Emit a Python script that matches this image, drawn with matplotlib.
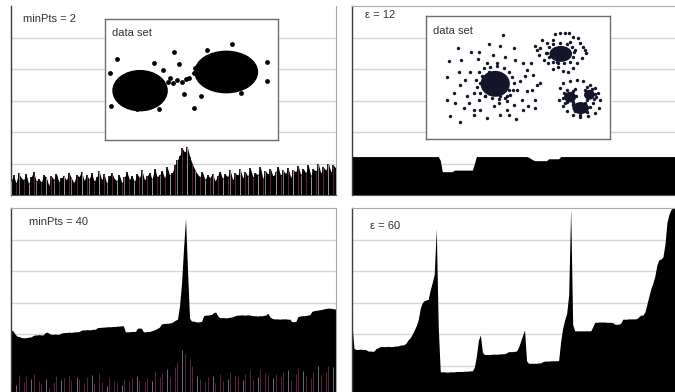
import matplotlib
matplotlib.use("Agg")
import matplotlib.pyplot as plt
from matplotlib.patches import Ellipse
import numpy as np

plt.rcParams['font.family'] = ['Liberation Sans', 'DejaVu Sans']

# ---------------------------------------------------------------- data
# Reachability plot, minPts = 2 (very noisy)
reach_minpts2 = [
    0.45, 0.62, 0.38, 0.70, 0.55, 0.48, 0.66, 0.35, 0.58, 0.72, 0.44, 0.52, 0.40, 0.63, 0.57,
    0.30, 0.61, 0.49, 0.68, 0.42, 0.55, 0.60, 0.47, 0.71, 0.53, 0.39, 0.65, 0.58, 0.74, 0.46,
    0.62, 0.51, 0.69, 0.43, 0.57, 0.75, 0.48, 0.66, 0.36, 0.59, 0.70, 0.52, 0.45, 0.63, 0.38,
    0.56, 0.73, 0.49, 0.61, 0.42, 0.67, 0.55, 0.78, 0.47, 0.60, 0.71, 0.50, 0.84, 0.58, 0.64,
    0.76, 0.53, 0.88, 0.62, 0.70, 0.95, 1.10, 1.25, 1.48, 1.35, 1.52, 1.20, 0.98, 0.80, 0.66,
    0.58, 0.72, 0.49, 0.63, 0.55, 0.68, 0.44, 0.61, 0.74, 0.52, 0.66, 0.58, 0.79, 0.47, 0.69,
    0.62, 0.81, 0.54, 0.73, 0.60, 0.85, 0.57, 0.70, 0.64, 0.88, 0.51, 0.76, 0.66, 0.83, 0.59,
    0.72, 0.90, 0.62, 0.78, 0.68, 0.86, 0.55, 0.80, 0.73, 0.92, 0.64, 0.84, 0.70, 0.95, 0.61,
    0.82, 0.76, 0.98, 0.69, 0.88, 0.79, 1.00, 0.72, 0.94, 0.85,
]

# Reachability plot, minPts = 40
reach_minpts40 = [
    2.13, 2.10, 2.00, 1.93, 1.92, 1.89, 1.88, 1.88, 1.89, 1.90, 1.91, 1.95, 1.97, 1.97, 1.98,
    1.97, 1.97, 2.04, 2.06, 2.02, 1.99, 1.99, 2.00, 1.99, 1.99, 2.03, 2.04, 2.05, 2.05, 2.06,
    2.05, 2.06, 2.07, 2.07, 2.08, 2.12, 2.13, 2.13, 2.14, 2.13, 2.14, 2.15, 2.15, 2.20, 2.21,
    2.21, 2.22, 2.22, 2.23, 2.23, 2.23, 2.24, 2.24, 2.25, 2.25, 2.26, 2.26, 2.07, 2.07, 2.07,
    2.08, 2.08, 2.08, 2.18, 2.19, 2.18, 2.07, 2.07, 2.08, 2.08, 2.10, 2.12, 2.15, 2.18, 2.22,
    2.32, 2.33, 2.34, 2.34, 2.35, 2.36, 2.40, 2.44, 2.47, 2.90, 3.60, 4.70, 5.67, 4.00, 2.50,
    2.41, 2.41, 2.39, 2.38, 2.39, 2.40, 2.58, 2.60, 2.60, 2.61, 2.62, 2.68, 2.70, 2.58, 2.52,
    2.52, 2.52, 2.51, 2.52, 2.53, 2.54, 2.56, 2.59, 2.60, 2.60, 2.61, 2.60, 2.60, 2.61, 2.60,
    2.59, 2.58, 2.58, 2.57, 2.58, 2.58, 2.59, 2.60, 2.66, 2.55, 2.50, 2.48, 2.48, 2.48, 2.47,
    2.48, 2.48, 2.48, 2.47, 2.47, 2.39, 2.39, 2.40, 2.55, 2.57, 2.58, 2.58, 2.59, 2.60, 2.62,
    2.72, 2.74, 2.75, 2.76, 2.77, 2.78, 2.80, 2.81, 2.82, 2.82, 2.81, 2.80, 2.79,
]

# Reachability plot, eps = 12 (values above eps are capped)
reach_eps12 = [
    1.22, 1.22, 1.22, 1.22, 1.22, 1.22, 1.22, 1.22, 1.22, 1.22, 1.22, 1.22, 1.22, 1.22, 1.22,
    1.22, 1.22, 1.22, 1.22, 1.22, 1.22, 1.22, 1.22, 1.22, 1.22, 1.22, 1.22, 1.22, 1.22, 1.22,
    1.22, 1.22, 1.22, 1.22, 1.22, 1.22, 1.22, 1.22, 1.22, 1.22, 1.22, 1.22, 1.22, 1.22, 1.10,
    0.74, 0.74, 0.74, 0.74, 0.74, 0.74, 0.79, 0.79, 0.79, 0.79, 0.79, 0.79, 0.79, 0.79, 0.79,
    0.79, 1.00, 1.22, 1.22, 1.22, 1.22, 1.22, 1.22, 1.22, 1.22, 1.22, 1.22, 1.22, 1.22, 1.22,
    1.22, 1.22, 1.22, 1.22, 1.22, 1.22, 1.22, 1.22, 1.22, 1.22, 1.22, 1.22, 1.22, 1.20, 1.16,
    1.12, 1.09, 1.09, 1.09, 1.09, 1.09, 1.09, 1.09, 1.15, 1.15, 1.15, 1.15, 1.15, 1.15, 1.22,
    1.22, 1.22, 1.22, 1.22, 1.22, 1.22, 1.22, 1.22, 1.22, 1.22, 1.22, 1.22, 1.22, 1.22, 1.22,
    1.22, 1.22, 1.22, 1.22, 1.22, 1.22, 1.22, 1.22, 1.22, 1.22, 1.22, 1.22, 1.22, 1.22, 1.22,
    1.22, 1.22, 1.22, 1.22, 1.22, 1.22, 1.22, 1.22, 1.22, 1.22, 1.22, 1.22, 1.22, 1.22, 1.22,
    1.22, 1.22, 1.22, 1.22, 1.22, 1.22, 1.22, 1.22, 1.22, 1.22, 1.22, 1.22,
]

# Reachability plot, eps = 60
reach_eps60 = [
    2.29, 1.54, 1.51, 1.51, 1.52, 1.51, 1.51, 1.50, 1.46, 1.46, 1.45, 1.46, 1.54, 1.56, 1.60,
    1.60, 1.60, 1.60, 1.61, 1.60, 1.60, 1.61, 1.62, 1.62, 1.65, 1.65, 1.66, 1.72, 1.82, 1.88,
    1.99, 2.12, 2.26, 2.45, 2.81, 2.99, 3.06, 3.08, 3.10, 3.40, 3.64, 3.90, 5.35, 2.20, 0.80,
    0.80, 0.80, 0.79, 0.79, 0.80, 0.80, 0.80, 0.81, 0.81, 0.81, 0.81, 0.82, 0.82, 0.82, 0.83,
    0.83, 0.95, 1.30, 1.80, 1.97, 1.42, 1.35, 1.35, 1.35, 1.35, 1.36, 1.36, 1.36, 1.36, 1.37,
    1.37, 1.38, 1.40, 1.44, 1.44, 1.44, 1.45, 1.46, 1.58, 1.76, 1.95, 2.13, 1.15, 1.07, 1.07,
    1.07, 1.07, 1.07, 1.08, 1.08, 1.12, 1.14, 1.14, 1.14, 1.15, 1.15, 1.15, 1.15, 1.16, 1.76,
    2.18, 2.45, 2.65, 3.24, 6.00, 2.30, 2.10, 2.10, 2.10, 2.10, 2.10, 2.10, 2.10, 2.10, 2.10,
    2.23, 2.37, 2.37, 2.38, 2.38, 2.38, 2.38, 2.37, 2.37, 2.37, 2.36, 2.31, 2.31, 2.31, 2.35,
    2.47, 2.47, 2.47, 2.48, 2.48, 2.48, 2.48, 2.49, 2.55, 2.60, 2.60, 2.70, 2.95, 3.20, 3.45,
    3.62, 3.85, 4.20, 4.36, 4.38, 4.45, 4.85, 5.55, 5.80, 5.95, 6.00, 6.00,
]

# Two-cluster data set (left inset): dense blobs, bridge and outliers
blob2_cx = [420, 678]
blob2_cy = [272, 216]
blob2_w = [160, 185]
blob2_h = [118, 122]
bridge_x = [505, 510, 520, 532, 545, 558, 568, 580, 585]
bridge_y = [245, 235, 250, 240, 245, 238, 235, 220, 205]
noise2_x = [350, 331, 333, 410, 478, 462, 489, 521, 536, 552, 582, 601, 620, 696, 723, 800, 800]
noise2_y = [178, 220, 318, 326, 327, 190, 209, 156, 193, 283, 324, 288, 149, 132, 279, 186, 242]

# Multi-density data set (right inset): dense cores and surrounding points
core3_cx = [465, 662, 690, 748, 722]
core3_cy = [252, 162, 292, 285, 325]
core3_w = [88, 68, 36, 32, 50]
core3_h = [78, 48, 32, 30, 36]
pts3_x = [487, 352, 447, 478, 520, 392, 415, 458, 495, 327, 362, 412, 440, 470, 525, 548,
          572, 560, 555, 540, 590, 600, 575, 585, 565, 545, 520, 500, 480, 460, 440, 420,
          400, 385, 370, 345, 320, 340, 360, 375, 390, 355, 320, 400, 415, 505, 527, 500,
          475, 435, 360, 400, 548, 560, 585, 505, 455, 420, 440, 530, 380, 580, 330,
          605, 620, 645, 660, 675, 688, 700, 715, 720, 730, 738, 725, 710, 700, 685, 670,
          655, 640, 625, 612, 598, 590, 585, 600, 618, 705, 640, 690, 735, 650,
          660, 670, 690, 710, 730, 750, 765, 775, 780, 778, 765, 745, 720, 700, 682, 668,
          658, 675, 700, 760, 740, 705, 768,
          415, 430, 450, 470, 490, 505, 515, 520, 518, 510, 495, 475, 455, 435, 420, 410,
          408, 425, 445, 480, 500,
          628, 640, 660, 680, 695, 702, 700, 690, 672, 655, 640, 628, 622,
          672, 680, 700, 708, 700, 680, 670, 735, 755, 765, 762, 740, 700, 705, 720, 742,
          750, 735]
pts3_y = [105, 143, 133, 138, 145, 157, 155, 165, 170, 183, 180, 178, 190, 188, 180, 190,
          190, 210, 228, 245, 255, 250, 270, 300, 320, 300, 315, 330, 345, 320, 355, 330,
          345, 310, 325, 310, 300, 280, 255, 240, 215, 215, 232, 280, 300, 345, 358, 305,
          310, 290, 368, 330, 330, 275, 325, 270, 230, 250, 270, 270, 290, 225, 350,
          120, 130, 102, 98, 100, 98, 110, 115, 128, 140, 160, 175, 190, 205, 215, 212,
          200, 207, 190, 180, 165, 150, 138, 145, 160, 150, 120, 125, 150, 185,
          265, 250, 245, 242, 245, 255, 265, 280, 300, 325, 340, 348, 352, 345, 335, 318,
          300, 310, 312, 310, 262, 268, 292,
          215, 205, 200, 198, 205, 215, 230, 250, 270, 285, 295, 298, 295, 290, 280, 262,
          240, 228, 215, 290, 290,
          140, 132, 130, 133, 140, 155, 172, 185, 190, 190, 185, 172, 158,
          280, 272, 275, 290, 308, 308, 295, 270, 268, 282, 298, 300, 315, 335, 345, 338,
          322, 310]

grid_levels = [1, 2, 3, 4, 5]

panel_labels = ['minPts = 2', 'ε = 12', 'minPts = 40', 'ε = 60']
inset_label = 'data set'

# ---------------------------------------------------------------- layout
W, H = 675, 392
fig = plt.figure(figsize=(W / 100, H / 100), dpi=100, facecolor='white')


def axes_px(left, top, right, bottom, **kw):
    return fig.add_axes([left / W, 1 - bottom / H, (right - left) / W, (bottom - top) / H], **kw)


GRID_C = '#d6d6d6'
FRAME_C = '#a8a8a8'
SPINE_C = '#3c3c3c'
TEXT_C = '#333333'
MAROON = '#5b2443'
DOT_C = '#14142a'


def style_panel(ax, n, top=True, right=False):
    ax.set_xlim(0, n - 1)
    ax.set_ylim(0, 6)
    for lvl in grid_levels:
        ax.axhline(lvl, color=GRID_C, lw=1.0, zorder=0)
    ax.set_xticks([])
    ax.set_yticks([])
    ax.spines['left'].set_color(SPINE_C)
    ax.spines['left'].set_linewidth(1.0)
    ax.spines['bottom'].set_color('#555555')
    ax.spines['top'].set_visible(top)
    ax.spines['top'].set_color(FRAME_C)
    ax.spines['right'].set_visible(right)
    ax.spines['right'].set_color(FRAME_C)


def label(ax, txt, x, y):
    ax.text(x, y, txt, transform=ax.transAxes, fontsize=8, color=TEXT_C,
            ha='left', va='center', zorder=10)


def streaks(ax, xs, vals, cycle, lw):
    for i, (xv, v) in enumerate(zip(xs, vals)):
        c = cycle[i % len(cycle)]
        if c is not None:
            ax.vlines(xv, 0, v, colors=c, lw=lw, zorder=3)


ax1 = axes_px(11, 6, 336, 195)
ax2 = axes_px(352, 6, 675, 195)
ax3 = axes_px(11, 208, 336, 397)
ax4 = axes_px(352, 208, 675, 397)

# minPts = 2: jagged black profile with grey and maroon streaks
n1 = len(reach_minpts2)
idx1 = np.arange(n1)
ax1.fill_between(idx1, reach_minpts2, color='black', lw=0, zorder=2)
ax1.vlines(idx1, 0, reach_minpts2, colors='black', lw=1.2, zorder=2)
streaks(ax1, idx1, reach_minpts2, ['#9a9a9a', None, MAROON, '#7c7c7c', None, MAROON, None], 0.7)
style_panel(ax1, n1, top=False, right=True)
label(ax1, panel_labels[0], 0.037, 0.931)

# eps = 12
n2 = len(reach_eps12)
ax2.fill_between(np.arange(n2), reach_eps12, color='black', lw=0, zorder=2)
style_panel(ax2, n2, top=True, right=False)
label(ax2, panel_labels[1], 0.04, 0.952)

# minPts = 40 with the minPts = 2 profile showing through at the bottom
n3 = len(reach_minpts40)
ax3.fill_between(np.arange(n3), reach_minpts40, color='black', lw=0, zorder=2)
x_over = np.linspace(0, n3 - 1, n1)
streaks(ax3, x_over, reach_minpts2, [MAROON, None, '#6e6e6e', MAROON, None, MAROON], 0.7)
style_panel(ax3, n3, top=True, right=True)
label(ax3, panel_labels[2], 0.055, 0.926)

# eps = 60
n4 = len(reach_eps60)
ax4.fill_between(np.arange(n4), reach_eps60, color='black', lw=0, zorder=2)
style_panel(ax4, n4, top=True, right=False)
label(ax4, panel_labels[3], 0.056, 0.905)


# ---------------------------------------------------------------- insets
def style_inset(ax):
    ax.set_facecolor('white')
    ax.set_xticks([])
    ax.set_yticks([])
    for s in ax.spines.values():
        s.set_color('#6e6e6e')
        s.set_linewidth(1.0)


in1 = axes_px(105, 19, 278, 140, zorder=20)
style_inset(in1)
in1.set_xlim(315, 833)
in1.set_ylim(420, 57)
for cx, cy, w, h in zip(blob2_cx, blob2_cy, blob2_w, blob2_h):
    in1.add_patch(Ellipse((cx, cy), w, h, facecolor='black', edgecolor='black', lw=1.5))
in1.scatter(bridge_x, bridge_y, s=12, color='black', lw=0)
in1.scatter(noise2_x, noise2_y, s=12, color='black', lw=0)
in1.text(0.04, 0.884, inset_label, transform=in1.transAxes, fontsize=8, color=TEXT_C,
         ha='left', va='center')

in2 = axes_px(426, 16, 610, 139, zorder=20)
style_inset(in2)
in2.set_xlim(257, 810)
in2.set_ylim(418, 48)
for cx, cy, w, h in zip(core3_cx, core3_cy, core3_w, core3_h):
    in2.add_patch(Ellipse((cx, cy), w, h, facecolor=DOT_C, edgecolor='none'))
in2.scatter(pts3_x, pts3_y, s=6, color=DOT_C, lw=0)
in2.text(0.038, 0.878, inset_label, transform=in2.transAxes, fontsize=8, color=TEXT_C,
         ha='left', va='center')

fig.savefig('out.png', dpi=100, facecolor='white')
